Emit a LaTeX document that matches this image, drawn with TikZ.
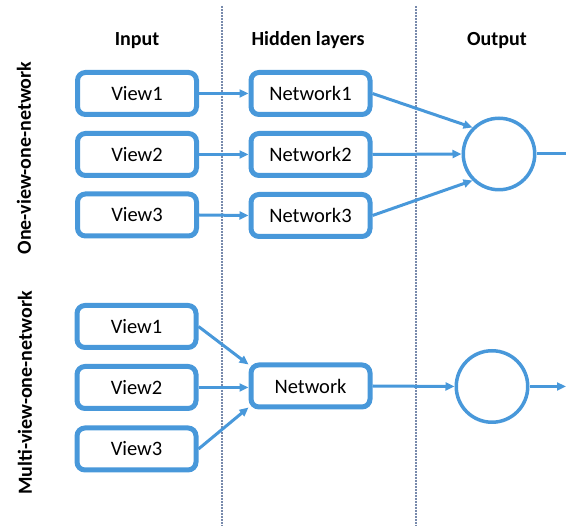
\documentclass[tikz,border=0pt]{standalone}
\usepackage{fontspec}
\setmainfont{Carlito}
\usetikzlibrary{arrows.meta}
\definecolor{boxblue}{RGB}{72,152,218}
\definecolor{sepgray}{RGB}{120,138,172}
\tikzset{
  viewbox/.style={draw=boxblue, line width=5pt, rounded corners=8pt,
    minimum width=119pt, minimum height=42pt, inner sep=0pt, font=\fontsize{20.5}{24}\selectfont},
  unit/.style={draw=boxblue, line width=3.5pt, circle, minimum size=71.5pt, inner sep=0pt},
  link/.style={draw=boxblue, line width=3pt, -{Triangle[length=9pt,width=8pt]}},
  plainlink/.style={draw=boxblue, line width=3pt},
  heading/.style={font=\bfseries\fontsize{20}{24}\selectfont, anchor=base},
  rowlabel/.style={font=\bfseries\fontsize{20}{24}\selectfont, rotate=90},
  separator/.style={draw=sepgray, line width=2pt, dash pattern=on 1.6pt off 1.4pt}
}
\begin{document}
\begin{tikzpicture}[x=1pt, y=-1pt]
\useasboundingbox (0,0) rectangle (566,526);

% column separators
\coordinate (s1t) at (222,6);
\coordinate (s1b) at (222,526);
\coordinate (s2t) at (416,6);
\coordinate (s2b) at (416,526);
\draw[separator] (s1t) -- (s1b);
\draw[separator] (s2t) -- (s2b);

% column headings
\node[heading] (hin) at (137,46) {Input};
\node[heading] (hhid) at (308,46) {Hidden layers};
\node[heading] (hout) at (497,46) {Output};

% row labels
\node[rowlabel] (lone) at (24,158) {One-view-one-network};
\node[rowlabel] (lmulti) at (25,393) {Multi-view-one-network};

% one view, one network
\node[viewbox] (v1) at (137,93.5) {View1};
\node[viewbox] (v2) at (137,154.5) {View2};
\node[viewbox] (v3) at (137,215) {View3};
\node[viewbox] (n1) at (310.5,93.5) {Network1};
\node[viewbox] (n2) at (310.5,154.5) {Network2};
\node[viewbox] (n3) at (310.5,215.5) {Network3};
\node[unit] (c1) at (499,154) {};
\coordinate (o1) at (566,154);

\draw[link] (v1.east) -- (n1.west);
\draw[link] (v2.east) -- (n2.west);
\draw[link] (v3.east) -- (n3.west);
\draw[link] (n1.east) -- (c1.135);
\draw[link] (n2.east) -- (c1.west);
\draw[link] (n3.east) -- (c1.225);
\draw[plainlink] (c1.east) -- (o1);

% multiple views, one network
\node[viewbox] (w1) at (136.5,326.5) {View1};
\node[viewbox] (w2) at (136.5,387.5) {View2};
\node[viewbox] (w3) at (136.5,449) {View3};
\node[viewbox] (net) at (310.5,386) {Network};
\node[unit] (c2) at (492,386.5) {};
\coordinate (o2) at (566,386.5);

\draw[link] (w1.east) -- ([yshift=-2pt]net.north west);
\draw[link] (w2.east) -- (w2.east -| net.west);
\draw[link] (w3.east) -- ([yshift=2pt]net.south west);
\draw[link] (net.east) -- (c2.west);
\draw[link] (c2.east) -- (o2);
\end{tikzpicture}
\end{document}
